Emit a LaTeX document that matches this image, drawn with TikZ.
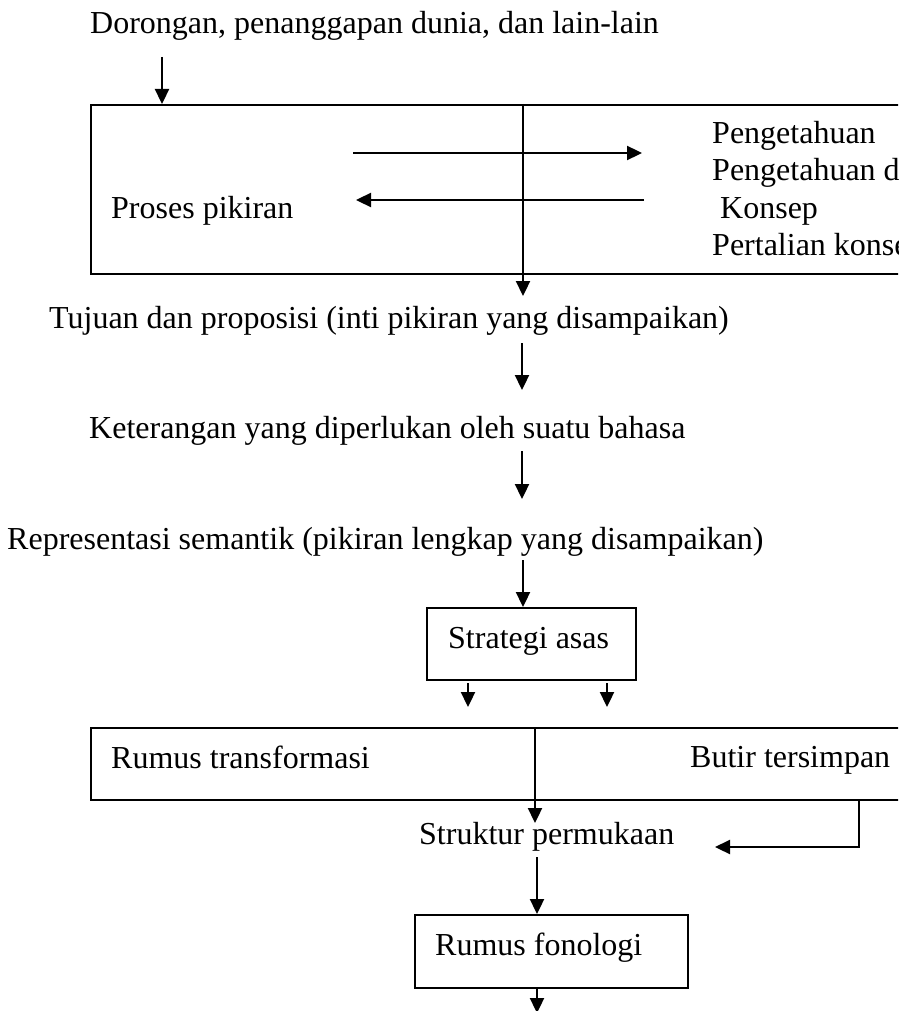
\documentclass[tikz,border=0pt]{standalone}
\usepackage{fontspec}
\setmainfont{Liberation Serif}
\usetikzlibrary{arrows.meta}
\begin{document}
\begin{tikzpicture}[x=1pt,y=-1pt,
  txt/.style={inner sep=0pt, anchor=base west, font=\fontsize{32}{38}\selectfont},
  box/.style={draw, line width=1.9pt, inner sep=0pt, anchor=north west},
  arr/.style={line width=2.3pt, -{Triangle[length=15pt,width=14pt]}}]
\useasboundingbox (0,0) rectangle (898,1011);
\clip (0,0) rectangle (898,1011);

% boxes
\node[box, minimum width=840pt, minimum height=169pt] (pbox) at (90,104) {};
\node[box, minimum width=209pt, minimum height=72pt] (sbox) at (426,607) {};
\node[box, minimum width=840pt, minimum height=72pt] (tbox) at (90,727) {};
\node[box, minimum width=273pt, minimum height=73pt] (fbox) at (414,914) {};

% texts
\node[txt] (dor) at (90,34) {Dorongan, penanggapan dunia, dan lain-lain};
\node[txt] (pk1) at (712,144) {Pengetahuan};
\node[txt] (pk2) at (712,181) {Pengetahuan dunia};
\node[txt] (pk3) at (712,218) {\ Konsep};
\node[txt] (pk4) at (712,255) {Pertalian konsep};
\node[txt] (pro) at (111,218) {Proses pikiran};
\node[txt] (tuj) at (49,328) {Tujuan dan proposisi (inti pikiran yang disampaikan)};
\node[txt] (ket) at (89,438) {Keterangan yang diperlukan oleh suatu bahasa};
\node[txt] (rep) at (7,549) {Representasi semantik (pikiran lengkap yang disampaikan)};
\node[txt] (str) at (448,648) {Strategi asas};
\node[txt] (rtr) at (111,768) {Rumus transformasi};
\node[txt] (but) at (690,767) {Butir tersimpan};
\node[txt] (stp) at (419,844) {Struktur permukaan};
\node[txt] (rfo) at (435,955) {Rumus fonologi};

% helper coordinates
\coordinate (c1) at (162,57);
\coordinate (c2a) at (353,153);
\coordinate (c2b) at (642,153);
\coordinate (c3a) at (644,200);
\coordinate (c3b) at (356,200);
\coordinate (c4) at (523,296);
\coordinate (c5a) at (522,343);
\coordinate (c5b) at (522,390);
\coordinate (c6a) at (522,451);
\coordinate (c6b) at (522,499);
\coordinate (c7a) at (523,560);
\coordinate (s1a) at (468,683);
\coordinate (s1b) at (468,707);
\coordinate (s2a) at (607,683);
\coordinate (s2b) at (607,707);
\coordinate (c9) at (535,823);
\coordinate (r1) at (859,847);
\coordinate (r2) at (715,847);
\coordinate (c11a) at (537,857);
\coordinate (c12) at (537,1013);

% connectors
\draw[arr] (c1) -- (pbox.north -| c1);
\draw[arr] (c2a) -- (c2b);
\draw[arr] (c3a) -- (c3b);
\draw[arr] (pbox.north -| c4) -- (c4);
\draw[arr] (c5a) -- (c5b);
\draw[arr] (c6a) -- (c6b);
\draw[arr] (c7a) -- (sbox.north -| c7a);
\draw[arr] (s1a) -- (s1b);
\draw[arr] (s2a) -- (s2b);
\draw[arr] (tbox.north -| c9) -- (c9);
\draw[arr] (tbox.south -| r1) -- (r1) -- (r2);
\draw[arr] (c11a) -- (fbox.north -| c11a);
\draw[arr] (fbox.south -| c12) -- (c12);
\end{tikzpicture}
\end{document}
